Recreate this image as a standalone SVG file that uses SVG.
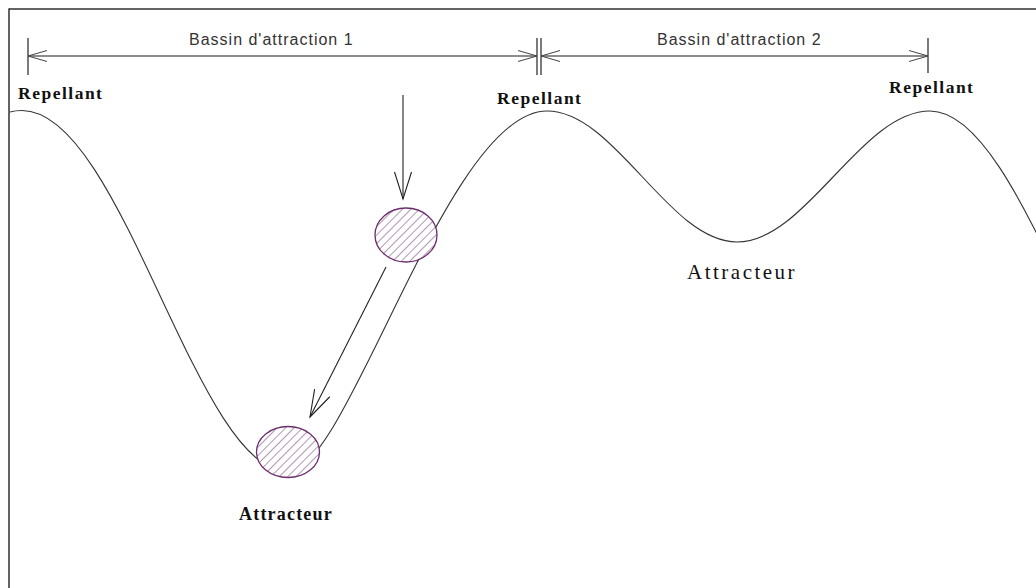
<svg xmlns="http://www.w3.org/2000/svg" width="1036" height="588" viewBox="0 0 1036 588">
<style>
.dimlbl{font-family:"Liberation Sans",Arial,sans-serif;font-size:16px;letter-spacing:1px;fill:#333}
.rep{font-family:"Liberation Serif","Times New Roman",serif;font-size:17.5px;font-weight:bold;letter-spacing:1.5px;fill:#111}
.att1{font-family:"Liberation Serif","Times New Roman",serif;font-size:18px;font-weight:bold;letter-spacing:1.2px;fill:#111}
.att2{font-family:"Liberation Serif","Times New Roman",serif;font-size:21px;letter-spacing:2.5px;fill:#111}
.dim{stroke:#666;stroke-width:1.6;fill:none}
.tick{stroke:#222;stroke-width:1.2}
.arrow{stroke:#222;stroke-width:1.1;fill:none}
.curve{stroke:#333;stroke-width:1.1;fill:none}
.ball{fill:url(#hatch);stroke:#6b2e6b;stroke-width:1.3}
</style>
<defs>
<pattern id="hatch" patternUnits="userSpaceOnUse" width="6" height="6" patternTransform="rotate(45)">
<rect width="6" height="6" fill="#fff"/>
<line x1="0" y1="0" x2="0" y2="6" stroke="#74407a" stroke-width="1.1"/>
</pattern>
<marker id="dimhead" markerUnits="userSpaceOnUse" markerWidth="24" markerHeight="16" viewBox="-21 -8 24 16" refX="0" refY="0" orient="auto-start-reverse">
<path d="M-19,-5.5 L0,0 L-19,5.5" fill="none" stroke="#444" stroke-width="1"/>
</marker>
<marker id="head" markerUnits="userSpaceOnUse" markerWidth="32" markerHeight="24" viewBox="-30 -12 32 24" refX="0" refY="0" orient="auto">
<path d="M-27,-8.5 L0,0 L-27,8.5" fill="none" stroke="#222" stroke-width="1.1"/>
</marker>
</defs>
<rect id="frame" x="9" y="9" width="1040" height="600" fill="#fff" stroke="#111" stroke-width="1.3"/>
<g id="curve">
<path class="curve" d="M10,112 C14,110.9 18,110.5 22,110.5 C122,110.5 196,472 288,472 C348,472 447,111 547,111 C615,111 669,242 737,242 C806,242 861,111 930,111 C1027,111 1103,472 1200,472"/>
</g>
<g id="dimension">
<line class="tick" x1="28" y1="38" x2="28" y2="75"/>
<line class="tick" x1="537" y1="38" x2="537" y2="75"/>
<line class="tick" x1="541" y1="38" x2="541" y2="75"/>
<line class="tick" x1="928" y1="38" x2="928" y2="73"/>
<line class="dim" x1="28" y1="56" x2="537" y2="56" marker-start="url(#dimhead)" marker-end="url(#dimhead)"/>
<line class="dim" x1="541" y1="56" x2="928" y2="56" marker-start="url(#dimhead)" marker-end="url(#dimhead)"/>
<text class="dimlbl" x="189" y="45">Bassin d'attraction 1</text>
<text class="dimlbl" x="657" y="45">Bassin d'attraction 2</text>
</g>
<g id="repellant-left"><text class="rep" x="18" y="99">Repellant</text></g>
<g id="repellant-mid"><text class="rep" x="497" y="104">Repellant</text></g>
<g id="repellant-right"><text class="rep" x="889" y="93">Repellant</text></g>
<g id="connectors">
<line class="arrow" x1="403" y1="95" x2="403" y2="199" marker-end="url(#head)"/>
<line class="arrow" x1="386" y1="267" x2="310" y2="417" marker-end="url(#head)"/>
</g>
<g id="ball-top"><ellipse class="ball" cx="406" cy="235" rx="31" ry="27"/></g>
<g id="ball-bottom"><ellipse class="ball" cx="288" cy="452" rx="31.5" ry="25.5"/></g>
<g id="attracteur-1"><text class="att1" x="239" y="520">Attracteur</text></g>
<g id="attracteur-2"><text class="att2" x="687" y="279">Attracteur</text></g>
</svg>
